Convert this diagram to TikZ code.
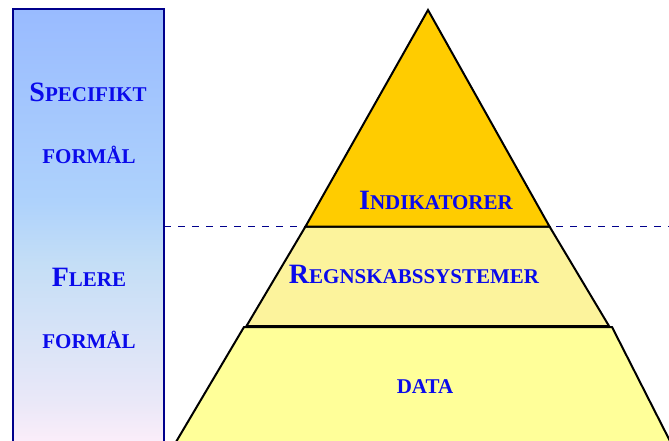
\documentclass[tikz,border=0pt]{standalone}
\usepackage{fontspec}
\setmainfont{Liberation Serif}
\definecolor{txtblue}{RGB}{10,10,235}
\definecolor{barline}{RGB}{0,0,140}
\definecolor{topfill}{RGB}{255,204,0}
\definecolor{midfill}{RGB}{252,243,156}
\definecolor{botfill}{RGB}{255,255,153}
\definecolor{bartop}{RGB}{153,187,255}
\definecolor{barca}{RGB}{174,210,252}
\definecolor{barcb}{RGB}{196,222,246}
\definecolor{barcc}{RGB}{234,232,248}
\definecolor{barbot}{RGB}{253,238,250}
\pgfdeclareverticalshading{barshade}{100bp}{color(0bp)=(barbot); color(25bp)=(barbot); color(30bp)=(barcc); color(46bp)=(barcb); color(53bp)=(barca); color(75bp)=(bartop); color(100bp)=(bartop)}
\newcommand{\bigsc}[2]{{\fontsize{28}{30}\selectfont #1}{\fontsize{21}{24}\selectfont #2}}
\newcommand{\smallsc}[1]{{\fontsize{21}{24}\selectfont #1}}
\tikzset{
  lbl/.style={anchor=base, text=txtblue, font=\bfseries, inner sep=0pt},
  band/.style={draw=black, line width=2pt, line join=miter},
}
\begin{document}
\begin{tikzpicture}[x=1pt,y=-1pt]
\useasboundingbox (0,0) rectangle (669,441);
% left bar
\shade[shading=barshade] (12.5,9.5) rectangle (164,446);
\draw[barline, line width=2pt] (12.5,446) -- (12.5,9.5) -- (164,9.5) -- (164,446);
% dashed line
\draw[barline, line width=1.6pt, dash pattern=on 7pt off 7pt] (164,226.5) -- (669,226.5);
% pyramid
\filldraw[band, fill=botfill] (244,327) -- (612,327) -- (673,447) -- (173,447) -- cycle;
\filldraw[band, fill=midfill] (305.5,226.5) -- (549.5,226.5) -- (609,326) -- (246.5,326) -- cycle;
\filldraw[band, fill=topfill] (428,10) -- (549.5,226.5) -- (305.5,226.5) -- cycle;
% labels
\node[lbl] (spec) at (88,102) {\bigsc{S}{PECIFIKT}};
\node[lbl] (form1) at (89,163) {\smallsc{FORMÅL}};
\node[lbl] (flere) at (89,286) {\bigsc{F}{LERE}};
\node[lbl] (form2) at (89,348) {\smallsc{FORMÅL}};
\node[lbl] (ind) at (436,209) {\bigsc{I}{NDIKATORER}};
\node[lbl] (reg) at (414,283) {\bigsc{R}{EGNSKABSSYSTEMER}};
\node[lbl] (data) at (425,393) {\smallsc{DATA}};
\end{tikzpicture}
\end{document}
